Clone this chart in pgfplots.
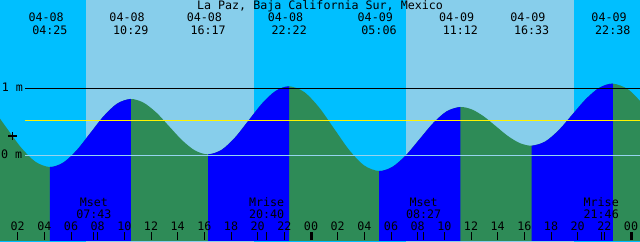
\documentclass[border=0pt]{standalone}
\usepackage{pgfplots}
\pgfplotsset{compat=1.18}
\usepgfplotslibrary{fillbetween}
\usepackage{fontspec}
\newfontfamily\mono{DejaVu Sans Mono}
\newcommand{\tf}{\mono\fontsize{8.3}{9}\selectfont}
\definecolor{night}{RGB}{0,191,255}
\definecolor{day}{RGB}{135,206,235}
\definecolor{rise}{RGB}{0,0,255}
\definecolor{fall}{RGB}{46,139,87}
\definecolor{zeroline}{RGB}{150,212,240}
\begin{document}
\begin{tikzpicture}
\begin{axis}[
  width=16cm, height=6cm, scale only axis,
  xmin=0.675, xmax=48.675, ymin=-1.274, ymax=2.324,
  set layers, axis on top,
  axis line style={draw=none},
  ytick=\empty, xtick pos=lower, tick align=inside,
  major tick length=5.7pt, minor tick length=5.7pt,
  tick style={black, line width=0.71pt},
  xtick={2,4,6,8,10,12,14,16,18,20,22,26,28,30,32,34,36,38,40,42,44,46},
  xticklabels={02,04,06,08,10,12,14,16,18,20,22,02,04,06,08,10,12,14,16,18,20,22},
  extra x ticks={24,48}, extra x tick labels={00,00},
  extra x tick style={major tick style={line width=2.13pt, black}},
  minor xtick={7.717,20.667,32.45,45.767},
  xticklabel style={font=\tf, anchor=base, yshift=7.1pt, inner sep=0pt},
  clip=true,
]
% sky bands
\addplot[on layer=axis background, fill=night, draw=none] coordinates {(0,-2) (50,-2) (50,3) (0,3)};
\addplot[on layer=axis background, fill=day, draw=none] coordinates {(7.125,-2) (19.725,-2) (19.725,3) (7.125,3)};
\addplot[on layer=axis background, fill=day, draw=none] coordinates {(31.125,-2) (43.725,-2) (43.725,3) (31.125,3)};
% tide curve (hours since 04-08 00:00, metres)
\addplot[draw=none, smooth, name path=tide] coordinates {
(-2.1,1.00) (-1.014,0.921) (0.072,0.705) (1.159,0.41) (2.245,0.115) (3.331,-0.101)
(4.417,-0.18) (5.428,-0.112) (6.439,0.075) (7.450,0.33) (8.461,0.585) (9.472,0.772)
(10.483,0.84) (11.450,0.784) (12.417,0.633) (13.383,0.425) (14.350,0.218) (15.317,0.066)
(16.283,0.01) (17.297,0.078) (18.311,0.265) (19.325,0.52) (20.339,0.775) (21.353,0.962)
(22.367,1.03) (23.489,0.945) (24.611,0.7125) (25.733,0.395) (26.856,0.0775) (27.978,-0.155)
(29.1,-0.24) (30.117,-0.176) (31.133,0.0) (32.15,0.24) (33.167,0.48) (34.183,0.656)
(35.2,0.72) (36.092,0.681) (36.983,0.575) (37.875,0.43) (38.767,0.285) (39.658,0.179)
(40.55,0.14) (41.564,0.202) (42.578,0.3725) (43.592,0.605) (44.606,0.8375) (45.619,1.008)
(46.633,1.07) (47.811,0.980) (48.989,0.735) (50.167,0.40)
};
\addplot[draw=none, name path=bot] coordinates {(-3,-1.5) (52,-1.5)};
\addplot[fall] fill between[of=tide and bot];
\addplot[rise] fill between[of=tide and bot, soft clip={domain=4.417:10.483}];
\addplot[rise] fill between[of=tide and bot, soft clip={domain=16.283:22.367}];
\addplot[rise] fill between[of=tide and bot, soft clip={domain=29.1:35.2}];
\addplot[rise] fill between[of=tide and bot, soft clip={domain=40.55:46.633}];
% reference lines
\addplot[black, line width=0.71pt] coordinates {(2.55,1) (50,1)};
\addplot[yellow, line width=0.71pt] coordinates {(2.55,0.52) (50,0.52)};
\addplot[zeroline, line width=0.71pt] coordinates {(2.55,0) (50,0)};
\addplot[black, only marks, mark=+, mark size=2.9pt, line width=1.1pt] coordinates {(1.6125,0.285)};
% texts
\node[font=\tf, anchor=base] at (axis cs:24.675,2.184) {La Paz, Baja California Sur, Mexico};
\node[font=\tf, anchor=base west, inner sep=0pt] at (axis cs:0.80,0.945) {1 m};
\node[font=\tf, anchor=base west, inner sep=0pt] at (axis cs:0.73,-0.05) {0 m};
\foreach \h/\d/\t in {4.417/04-08/04:25, 10.483/04-08/10:29, 16.283/04-08/16:17, 22.367/04-08/22:22,
  29.1/04-09/05:06, 35.2/04-09/11:12, 40.55/04-09/16:33, 46.633/04-09/22:38} {
  \edef\temp{\noexpand\node[font=\noexpand\tf, anchor=base, inner sep=0pt] at (axis cs:\h-0.28,1.999) {\d};
    \noexpand\node[font=\noexpand\tf, anchor=base, inner sep=0pt] at (axis cs:\h,1.814) {\t};}
  \temp
}
\foreach \h/\d/\t in {7.717/Mset/07:43, 20.667/Mrise/20:40, 32.45/Mset/08:27, 45.767/Mrise/21:46} {
  \edef\temp{\noexpand\node[font=\noexpand\tf, anchor=base, inner sep=0pt] at (axis cs:\h,-0.765) {\d};
    \noexpand\node[font=\noexpand\tf, anchor=base, inner sep=0pt] at (axis cs:\h,-0.945) {\t};}
  \temp
}
\end{axis}
\end{tikzpicture}
\end{document}
